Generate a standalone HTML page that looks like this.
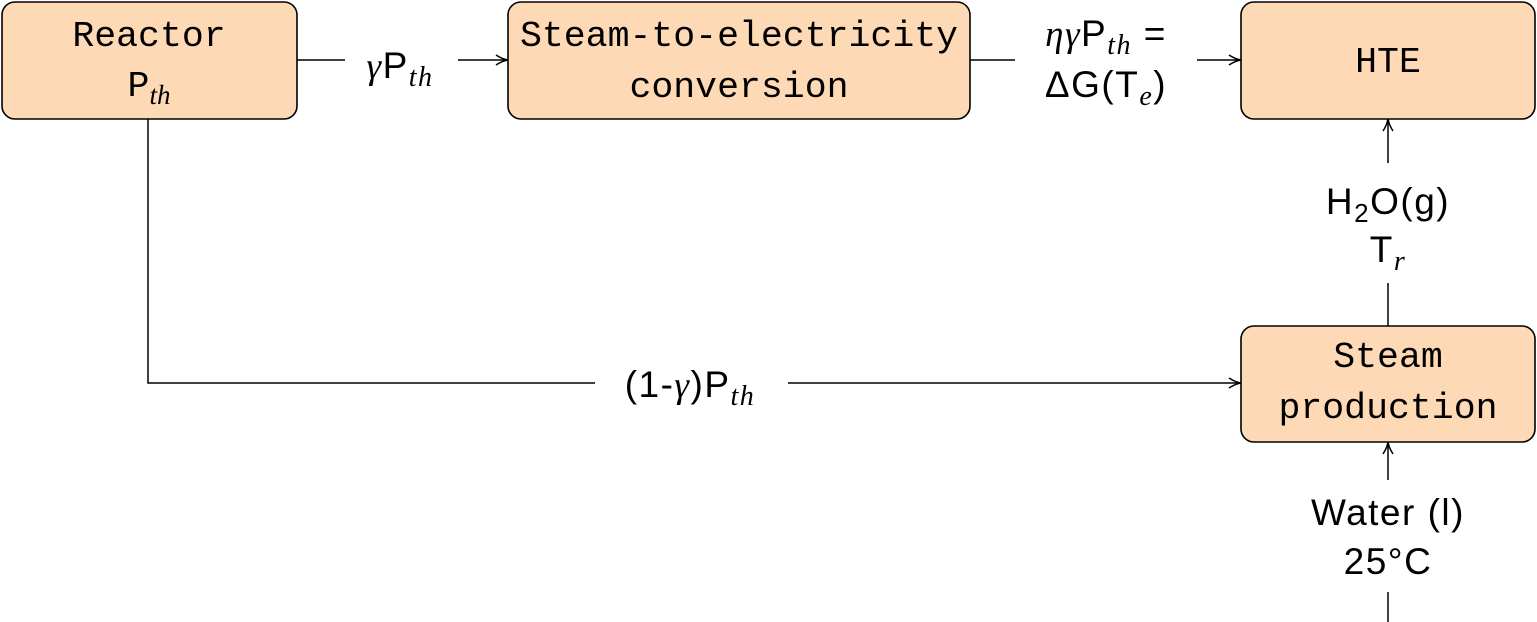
<!DOCTYPE html>
<html><head><meta charset="utf-8"><style>
html,body{margin:0;padding:0;background:#fff;width:1537px;height:622px;overflow:hidden}
.m{font-family:"Liberation Mono",monospace;font-size:36.5px}
.s{font-family:"Liberation Sans",sans-serif;font-size:37px;letter-spacing:1.5px}
.i{font-family:"Liberation Serif",serif;font-style:italic}
</style></head><body>
<svg width="1537" height="622" viewBox="0 0 1537 622" xmlns="http://www.w3.org/2000/svg">
<defs><marker id="ar" markerWidth="14" markerHeight="12" refX="13" refY="6" orient="auto" markerUnits="userSpaceOnUse"><path d="M1,1 Q7,5 13,6 Q7,7 1,11" fill="none" stroke="#000" stroke-width="1.5"/></marker></defs>
<g fill="#fdd9b5" stroke="#000" stroke-width="1.6">
<rect x="2" y="2" width="295" height="117" rx="13"/>
<rect x="508" y="2" width="462" height="117" rx="13"/>
<rect x="1241" y="2" width="294" height="117" rx="13"/>
<rect x="1241" y="326" width="294" height="116" rx="13"/>
</g>
<g class="m" text-anchor="middle">
<text x="149" y="46">Reactor</text>
<text x="149" y="96">P<tspan class="i" font-size="27" dy="8">th</tspan></text>
<text x="739" y="46">Steam-to-electricity</text>
<text x="739" y="97">conversion</text>
<text x="1388" y="72">HTE</text>
<text x="1388" y="367">Steam</text>
<text x="1388" y="418">production</text>
</g>
<g stroke="#000" stroke-width="1.5" fill="none">
<line x1="297" y1="60" x2="345" y2="60"/>
<line x1="458" y1="60" x2="508" y2="60" marker-end="url(#ar)"/>
<line x1="970" y1="60" x2="1015" y2="60"/>
<line x1="1197" y1="60" x2="1241" y2="60" marker-end="url(#ar)"/>
<polyline points="148,119 148,383 595,383"/>
<line x1="788" y1="383" x2="1241" y2="383" marker-end="url(#ar)"/>
<line x1="1388" y1="326" x2="1388" y2="283"/>
<line x1="1388" y1="163" x2="1388" y2="119" marker-end="url(#ar)"/>
<line x1="1388" y1="622" x2="1388" y2="592"/>
<line x1="1388" y1="480" x2="1388" y2="442" marker-end="url(#ar)"/>
</g>
<g class="s" text-anchor="middle">
<text x="400" y="78"><tspan class="i">γ</tspan>P<tspan class="i" font-size="28" dy="8">th</tspan></text>
<text x="1106" y="46"><tspan class="i">ηγ</tspan>P<tspan class="i" font-size="28" dy="8">th</tspan><tspan dy="-8"> =</tspan></text>
<text x="1106" y="97">ΔG(T<tspan class="i" font-size="28" dy="8">e</tspan><tspan dy="-8">)</tspan></text>
<text x="690" y="397">(1-<tspan class="i">γ</tspan>)P<tspan class="i" font-size="28" dy="8">th</tspan></text>
<text x="1388" y="214">H<tspan font-size="26" dy="8">2</tspan><tspan dy="-8">O(g)</tspan></text>
<text x="1388" y="262">T<tspan class="i" font-size="28" dy="8">r</tspan></text>
<text x="1388" y="525">Water (l)</text>
<text x="1388" y="574">25°C</text>
</g>
</svg>
</body></html>
